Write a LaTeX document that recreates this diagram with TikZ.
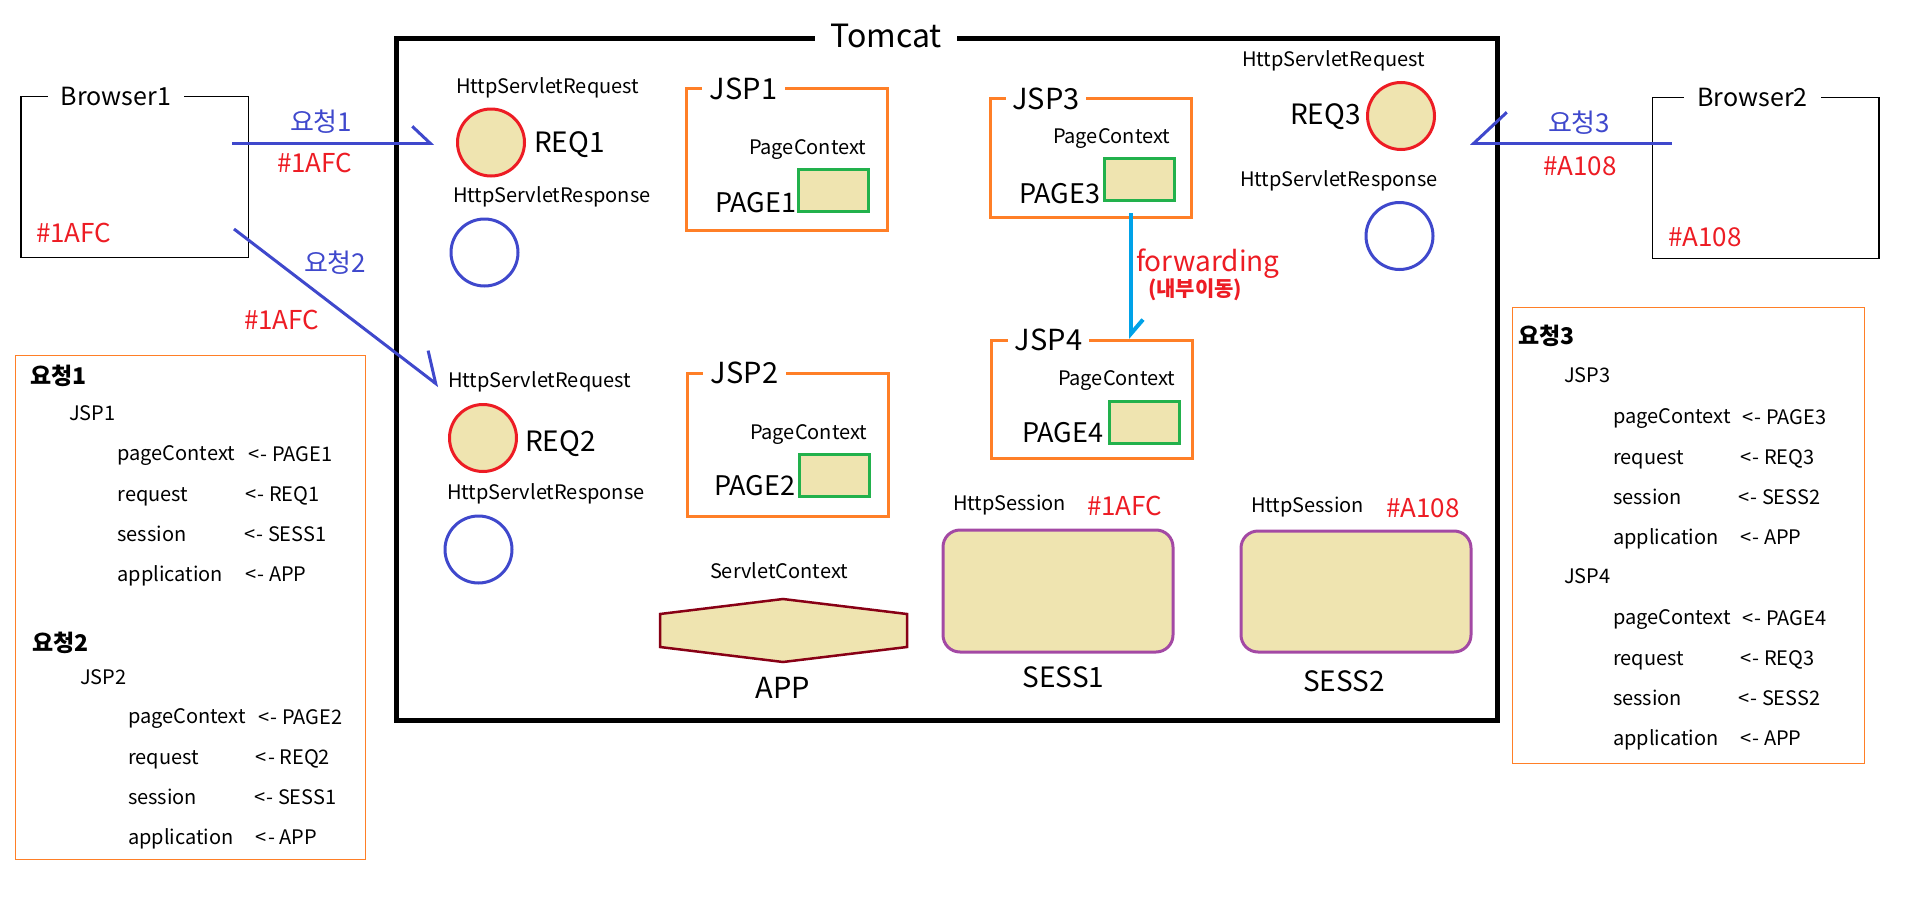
\documentclass[tikz,border=0pt]{standalone}
\usepackage{fontspec}
\setmainfont{Noto Sans CJK KR}
\usetikzlibrary{arrows.meta}
\definecolor{pred}{HTML}{ED1C24}
\definecolor{pblue}{HTML}{3F48CC}
\definecolor{porange}{HTML}{FF7F27}
\definecolor{pgreen}{HTML}{22B14C}
\definecolor{pbeige}{HTML}{EFE4B0}
\definecolor{ppurple}{HTML}{A349A4}
\definecolor{pdred}{HTML}{880015}
\definecolor{pcyan}{HTML}{00A2E8}
\newcommand\myfs[1]{\fontsize{#1}{#1}\selectfont}
\newcommand\larr{<\kern1.5pt-}
\begin{document}
\begin{tikzpicture}[x=1pt,y=-1pt,
  every node/.style={inner sep=0pt, outer sep=0pt},
  tx/.style={execute at begin node={\vphantom{Hp}}},
  lbl/.style={tx, anchor=west, font=\myfs{20}},
  big/.style={tx, anchor=west, font=\myfs{28}, yshift=-3pt},
  redt/.style={tx, anchor=west, font=\myfs{26}, text=pred, yshift=-2pt},
  bluet/.style={tx, anchor=west, font=\myfs{26}, text=pblue, yshift=-2pt},
  info/.style={tx, anchor=west, font=\myfs{20}},
  infohead/.style={tx, anchor=west, font=\bfseries\myfs{23}, yshift=-2pt},
  browser/.style={draw=black, line width=1.2pt},
  titlegap/.style={tx, fill=white, inner xsep=13pt, inner ysep=2pt, yshift=-4pt},
  jsptitle/.style={tx, fill=white, inner xsep=0pt, font=\myfs{29}, yshift=-2pt},
  jspbox/.style={draw=porange, line width=3pt},
  pagebox/.style={draw=pgreen, line width=3pt, fill=pbeige, minimum width=70pt, minimum height=42pt},
  reqc/.style={circle, draw=pred, line width=3pt, fill=pbeige, minimum size=67pt},
  resc/.style={circle, draw=pblue, line width=3pt, minimum size=67pt},
  sessbox/.style={draw=ppurple, line width=3pt, fill=pbeige, rounded corners=17pt},
  infobox/.style={draw=porange, line width=1pt},
  reqline/.style={draw=pblue, line width=3pt}
]
\useasboundingbox (0,0) rectangle (1915,905);

% Tomcat frame
\node[draw=black, line width=5pt, minimum width=1101.5pt, minimum height=681.7pt] (tomcat) at (946.75,379.15) {};
\node[titlegap, inner xsep=15pt, font=\myfs{32}, yshift=2pt] (tomcatT) at (886,37) {Tomcat};

% Browsers
\node[browser, minimum width=227.6pt, minimum height=160.6pt] (b1) at (134.8,177) {};
\node[titlegap, font=\myfs{25}] (b1T) at (116,95) {Browser1};
\node[redt] (b1id) at (36,234) {\#1AFC};
\node[browser, minimum width=226.5pt, minimum height=161pt] (b2) at (1765.75,177.8) {};
\node[titlegap, font=\myfs{25}] (b2T) at (1752.5,96) {Browser2};
\node[redt] (b2id) at (1668,238) {\#A108};

% Requests
\node[reqc] (req1) at (491,142.5) {};
\node[resc] (res1) at (484.5,252.5) {};
\node[lbl] (req1L) at (456,88) {HttpServletRequest};
\node[big] (req1T) at (534,142) {REQ1};
\node[lbl] (res1L) at (453,197) {HttpServletResponse};

\node[reqc] (req2) at (483,438) {};
\node[resc] (res2) at (478.5,549.5) {};
\node[lbl] (req2L) at (448,382) {HttpServletRequest};
\node[big] (req2T) at (525,441) {REQ2};
\node[lbl] (res2L) at (447,494) {HttpServletResponse};

\node[reqc] (req3) at (1401,116) {};
\node[resc] (res3) at (1399.5,236) {};
\node[lbl] (req3L) at (1242,61) {HttpServletRequest};
\node[big] (req3T) at (1290,114) {REQ3};
\node[lbl] (res3L) at (1240,181) {HttpServletResponse};

% request arrows
\coordinate (a1s) at (232,143.3);
\coordinate (a1e) at (434,143.3);
\draw[reqline, -{Straight Barb[left, length=18pt, width=34pt]}] (a1s) -- (a1e);
\node[bluet] (a1T) at (290,122) {요청1};
\node[redt] (a1id) at (277,164) {\#1AFC};

\coordinate (a2s) at (234,229);
\coordinate (a2e) at (439,386);
\draw[reqline, -{Straight Barb[left, length=26pt, width=43pt]}] (a2s) -- (a2e);
\node[bluet] (a2T) at (304,263) {요청2};
\node[redt] (a2id) at (244,321) {\#1AFC};

\coordinate (a3s) at (1672,143.3);
\coordinate (a3e) at (1470,143.3);
\draw[reqline, -{Straight Barb[right, length=33pt, width=62pt]}] (a3s) -- (a3e);
\node[bluet] (a3T) at (1548,123) {요청3};
\node[redt] (a3id) at (1543,167) {\#A108};

% JSP boxes
\node[jspbox, minimum width=201pt, minimum height=142pt] (jsp1) at (786.5,159) {};
\node[jsptitle, minimum width=83pt] (jsp1T) at (743.5,90) {JSP1};
\node[lbl] (pc1L) at (749,150) {PageContext};
\node[pagebox] (page1) at (833,190) {};
\node[big, font=\myfs{27}] (page1T) at (715,203) {PAGE1};

\node[jspbox, minimum width=201pt, minimum height=143pt] (jsp2) at (787.5,444.5) {};
\node[jsptitle, minimum width=83pt] (jsp2T) at (744.5,374) {JSP2};
\node[lbl] (pc2L) at (750,435) {PageContext};
\node[pagebox] (page2) at (834,475) {};
\node[big, font=\myfs{27}] (page2T) at (714,486) {PAGE2};

\node[jspbox, minimum width=201pt, minimum height=119pt] (jsp3) at (1090.5,157.5) {};
\node[jsptitle, minimum width=80pt] (jsp3T) at (1046,100) {JSP3};
\node[lbl] (pc3L) at (1053,139) {PageContext};
\node[pagebox] (page3) at (1139,179) {};
\node[big, font=\myfs{27}] (page3T) at (1019,194) {PAGE3};

\node[jspbox, minimum width=201pt, minimum height=118pt] (jsp4) at (1091.5,399.7) {};
\node[jsptitle, minimum width=81pt] (jsp4T) at (1048.5,341) {JSP4};
\node[lbl] (pc4L) at (1058,381) {PageContext};
\node[pagebox] (page4) at (1144,422) {};
\node[big, font=\myfs{27}] (page4T) at (1022,433) {PAGE4};

% forwarding
\coordinate (fs) at (1131,213);
\coordinate (fe) at (1131,339);
\draw[draw=pcyan, line width=4pt, -{Straight Barb[left, length=14pt, width=24pt]}] (fs) -- (fe);
\node[redt, font=\myfs{28}] (fwdT) at (1136,262) {forwarding};
\node[tx, anchor=west, text=pred, font=\bfseries\myfs{21}] (fwdK) at (1148,290) {(내부이동)};

% Servlet context
\node[lbl] (scL) at (710,573) {ServletContext};
\draw[draw=pdred, line width=2.5pt, fill=pbeige, line join=miter]
  (660,614) -- (783,599) -- (907,614) -- (907,647) -- (783,662) -- (660,647) -- cycle;
\coordinate (app) at (783,630.5);
\node[tx, font=\myfs{29}, yshift=-3pt] (appT) at (783,688) {APP};

% Sessions
\node[lbl] (hs1L) at (953,505) {HttpSession};
\node[redt] (hs1id) at (1087,507) {\#1AFC};
\node[sessbox, minimum width=230pt, minimum height=122pt] (sess1) at (1058,591) {};
\node[tx, font=\myfs{28}, yshift=-3pt] (sess1T) at (1063.5,677) {SESS1};

\node[lbl] (hs2L) at (1251,507) {HttpSession};
\node[redt] (hs2id) at (1386,509) {\#A108};
\node[sessbox, minimum width=230pt, minimum height=121pt] (sess2) at (1356,591.5) {};
\node[tx, font=\myfs{28}, yshift=-3pt] (sess2T) at (1344,681) {SESS2};

% left info box
\node[infobox, minimum width=349.5pt, minimum height=503.3pt] (infoL) at (190.25,607.35) {};
\node[infohead] (i1h) at (30.6,375) {요청1};
\node[info] (i1j) at (69,415) {JSP1};
\node[info] (i1a) at (117.5,456) {pageContext};
\node[info] (i1av) at (248,456) {\larr~PAGE1};
\node[info] (i1b) at (117.5,496) {request};
\node[info] (i1bv) at (245,496) {\larr~REQ1};
\node[info] (i1c) at (117.5,536) {session};
\node[info] (i1cv) at (244,536) {\larr~SESS1};
\node[info] (i1d) at (117.5,576) {application};
\node[info] (i1dv) at (245,576) {\larr~APP};

\node[infohead] (i2h) at (32,642) {요청2};
\node[info] (i2j) at (80,679) {JSP2};
\node[info] (i2a) at (128,719) {pageContext};
\node[info] (i2av) at (258,719) {\larr~PAGE2};
\node[info] (i2b) at (128,759) {request};
\node[info] (i2bv) at (255.5,759) {\larr~REQ2};
\node[info] (i2c) at (128,799) {session};
\node[info] (i2cv) at (254,799) {\larr~SESS1};
\node[info] (i2d) at (128,839) {application};
\node[info] (i2dv) at (255.5,839) {\larr~APP};

% right info box
\node[infobox, minimum width=351.5pt, minimum height=455.7pt] (infoR) at (1688.25,535.15) {};
\node[infohead] (i3h) at (1518,335) {요청3};
\node[info] (i3j) at (1564,377) {JSP3};
\node[info] (i3a) at (1613,419) {pageContext};
\node[info] (i3av) at (1742,419) {\larr~PAGE3};
\node[info] (i3b) at (1613,459) {request};
\node[info] (i3bv) at (1740,459) {\larr~REQ3};
\node[info] (i3c) at (1613,499) {session};
\node[info] (i3cv) at (1738,499) {\larr~SESS2};
\node[info] (i3d) at (1613,539) {application};
\node[info] (i3dv) at (1740,539) {\larr~APP};
\node[info] (i4j) at (1564,578) {JSP4};
\node[info] (i4a) at (1613,620) {pageContext};
\node[info] (i4av) at (1742,620) {\larr~PAGE4};
\node[info] (i4b) at (1613,660) {request};
\node[info] (i4bv) at (1740,660) {\larr~REQ3};
\node[info] (i4c) at (1613,700) {session};
\node[info] (i4cv) at (1738,700) {\larr~SESS2};
\node[info] (i4d) at (1613,740) {application};
\node[info] (i4dv) at (1740,740) {\larr~APP};
\end{tikzpicture}
\end{document}
